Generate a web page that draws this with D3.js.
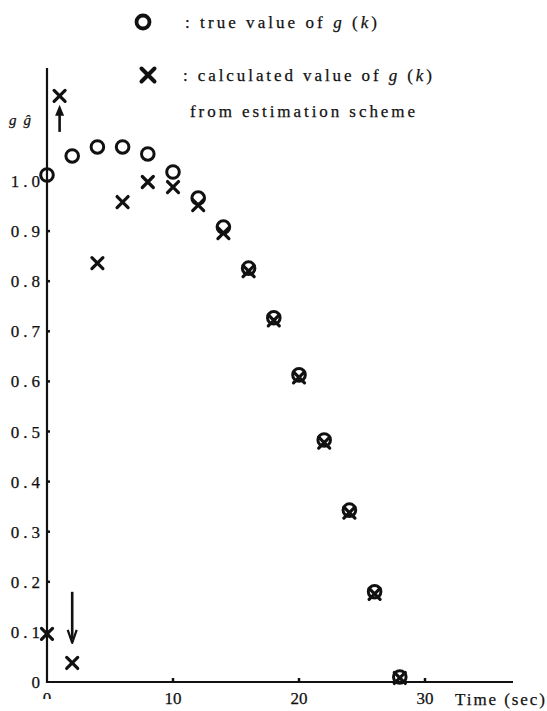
<!DOCTYPE html>
<html>
<head>
<meta charset="utf-8">
<script src="https://cdn.jsdelivr.net/npm/d3@7"></script>
<style>
  html, body { margin: 0; padding: 0; background: #fff; }
  svg text { font-family: "Liberation Serif", "Times New Roman", "DejaVu Serif", serif; fill: #111; stroke: #111; stroke-width: 0.25px; }
</style>
</head>
<body>
<svg id="chart"></svg>
<script>
// true value of g(k)
const trueTimes = [0, 2, 4, 6, 8, 10, 12, 14, 16, 18, 20, 22, 24, 26, 28]
const trueValues = [1.012, 1.05, 1.068, 1.068, 1.054, 1.018, 0.966, 0.908, 0.826, 0.727, 0.613, 0.483, 0.343, 0.18, 0.01]

// calculated value from estimation scheme
const calcTimes = [0, 1, 2, 4, 6, 8, 10, 12, 14, 16, 18, 20, 22, 24, 26, 28]
const calcValues = [0.096, 1.17, 0.038, 0.836, 0.958, 0.998, 0.988, 0.952, 0.896, 0.82, 0.722, 0.608, 0.478, 0.338, 0.176, 0.008]

// off-scale arrows: time, tail value, head value
const arrowTimes = [1, 2]
const arrowFrom = [1.098, 0.18]
const arrowTo = [1.152, 0.078]

const yTicks = [0, 0.1, 0.2, 0.3, 0.4, 0.5, 0.6, 0.7, 0.8, 0.9, 1.0]
const yTickLabels = ['0', '0.1', '0.2', '0.3', '0.4', '0.5', '0.6', '0.7', '0.8', '0.9', '1.0']
const xTicks = [0, 10, 20, 30]
const xTickLabels = ['0', '10', '20', '30']

const width = 547
const height = 711

const svg = d3.select('#chart')
  .attr('width', width)
  .attr('height', height)

const x = d3.scaleLinear().domain([0, 30]).range([47, 425])
const y = d3.scaleLinear().domain([0, 1]).range([682, 181])

// axes lines
svg.append('line')
  .attr('x1', x(0)).attr('x2', x(0))
  .attr('y1', y(0) + 1).attr('y2', 68)
  .attr('stroke', '#111').attr('stroke-width', 2.2)

svg.append('line')
  .attr('x1', x(0) - 1).attr('x2', 513)
  .attr('y1', y(0)).attr('y2', y(0))
  .attr('stroke', '#111').attr('stroke-width', 2.2)

// y ticks (small nubs) and labels
svg.selectAll('.ytick')
  .data(yTicks.slice(1))
  .enter()
  .append('line')
  .attr('x1', x(0)).attr('x2', x(0) + 3)
  .attr('y1', d => y(d)).attr('y2', d => y(d))
  .attr('stroke', '#111').attr('stroke-width', 2.5)

svg.selectAll('.ylab')
  .data(yTicks)
  .enter()
  .append('text')
  .attr('x', 44)
  .attr('y', d => y(d) + 6)
  .attr('text-anchor', 'end')
  .style('font-size', '17px')
  .style('letter-spacing', '4px')
  .text((d, i) => yTickLabels[i])

// x ticks and labels
svg.selectAll('.xtick')
  .data(xTicks.slice(1))
  .enter()
  .append('line')
  .attr('x1', d => x(d)).attr('x2', d => x(d))
  .attr('y1', y(0)).attr('y2', y(0) - 4)
  .attr('stroke', '#111').attr('stroke-width', 2.5)

svg.append('clipPath').attr('id', 'zeroclip')
  .append('rect').attr('x', 0).attr('y', 0).attr('width', width).attr('height', 699)

svg.selectAll('.xlab')
  .data(xTicks)
  .enter()
  .append('text')
  .attr('x', d => x(d))
  .attr('y', 704)
  .attr('text-anchor', 'middle')
  .attr('clip-path', d => d === 0 ? 'url(#zeroclip)' : null)
  .style('font-size', '17px')
  .text((d, i) => xTickLabels[i])

svg.append('text')
  .attr('x', 455).attr('y', 705)
  .attr('textLength', 90)
  .attr('lengthAdjust', 'spacing')
  .style('font-size', '17px')
  .text('Time (sec)')

// y axis label "g ĝ"
const ylab = svg.append('text')
  .attr('x', 9).attr('y', 125)
  .style('font-size', '15px')
  .style('font-style', 'italic')
ylab.append('tspan').text('g')
ylab.append('tspan').attr('dx', 7).text('ĝ')

// markers
const drawCross = (sel, cx, cy, s, w) => {
  sel.append('path')
    .attr('d', `M${cx - s},${cy - s}L${cx + s},${cy + s}M${cx - s},${cy + s}L${cx + s},${cy - s}`)
    .attr('stroke', '#111').attr('stroke-width', w)
    .attr('stroke-linecap', 'round')
    .attr('fill', 'none')
}

svg.selectAll('.truept')
  .data(trueValues)
  .enter()
  .append('circle')
  .attr('cx', (d, i) => x(trueTimes[i]))
  .attr('cy', d => y(d))
  .attr('r', 6.3)
  .attr('fill', 'none')
  .attr('stroke', '#111')
  .attr('stroke-width', 3)

const calcG = svg.append('g')
calcValues.forEach((v, i) => drawCross(calcG, x(calcTimes[i]), y(v), 5.5, 3.2))

// arrows: filled head pointing up, open chevron head pointing down
arrowTimes.forEach((t, i) => {
  const ax = x(t)
  const y1 = y(arrowFrom[i])
  const y2 = y(arrowTo[i])
  const dir = y2 < y1 ? -1 : 1
  svg.append('line')
    .attr('x1', ax).attr('x2', ax)
    .attr('y1', y1).attr('y2', y2 - dir * 4)
    .attr('stroke', '#111').attr('stroke-width', 2.6)
  if (dir < 0) {
    svg.append('path')
      .attr('d', `M${ax},${y2}L${ax - 4.5},${y2 + 11}L${ax + 4.5},${y2 + 11}Z`)
      .attr('fill', '#111')
  } else {
    svg.append('path')
      .attr('d', `M${ax - 4.5},${y2 - 13}L${ax},${y2}L${ax + 4.5},${y2 - 13}`)
      .attr('fill', 'none').attr('stroke', '#111').attr('stroke-width', 2.2)
      .attr('stroke-linejoin', 'round')
  }
})

// legend
svg.append('circle')
  .attr('cx', 143).attr('cy', 22).attr('r', 6.5)
  .attr('fill', 'none').attr('stroke', '#111').attr('stroke-width', 3.8)
drawCross(svg, 148, 75, 6.5, 4)

const leg1 = svg.append('text')
  .attr('x', 185).attr('y', 28)
  .attr('textLength', 192).attr('lengthAdjust', 'spacing')
  .style('font-size', '17px')
leg1.append('tspan').text(': true value  of  ')
leg1.append('tspan').style('font-style', 'italic').text('g')
leg1.append('tspan').text(' (')
leg1.append('tspan').style('font-style', 'italic').text('k')
leg1.append('tspan').text(')')

const leg2 = svg.append('text')
  .attr('x', 183).attr('y', 81)
  .attr('textLength', 249).attr('lengthAdjust', 'spacing')
  .style('font-size', '17px')
leg2.append('tspan').text(':  calculated value of  ')
leg2.append('tspan').style('font-style', 'italic').text('g')
leg2.append('tspan').text(' (')
leg2.append('tspan').style('font-style', 'italic').text('k')
leg2.append('tspan').text(')')

svg.append('text')
  .attr('x', 190).attr('y', 117)
  .attr('textLength', 225).attr('lengthAdjust', 'spacing')
  .style('font-size', '17px')
  .text('from estimation scheme')
</script>
</body>
</html>
